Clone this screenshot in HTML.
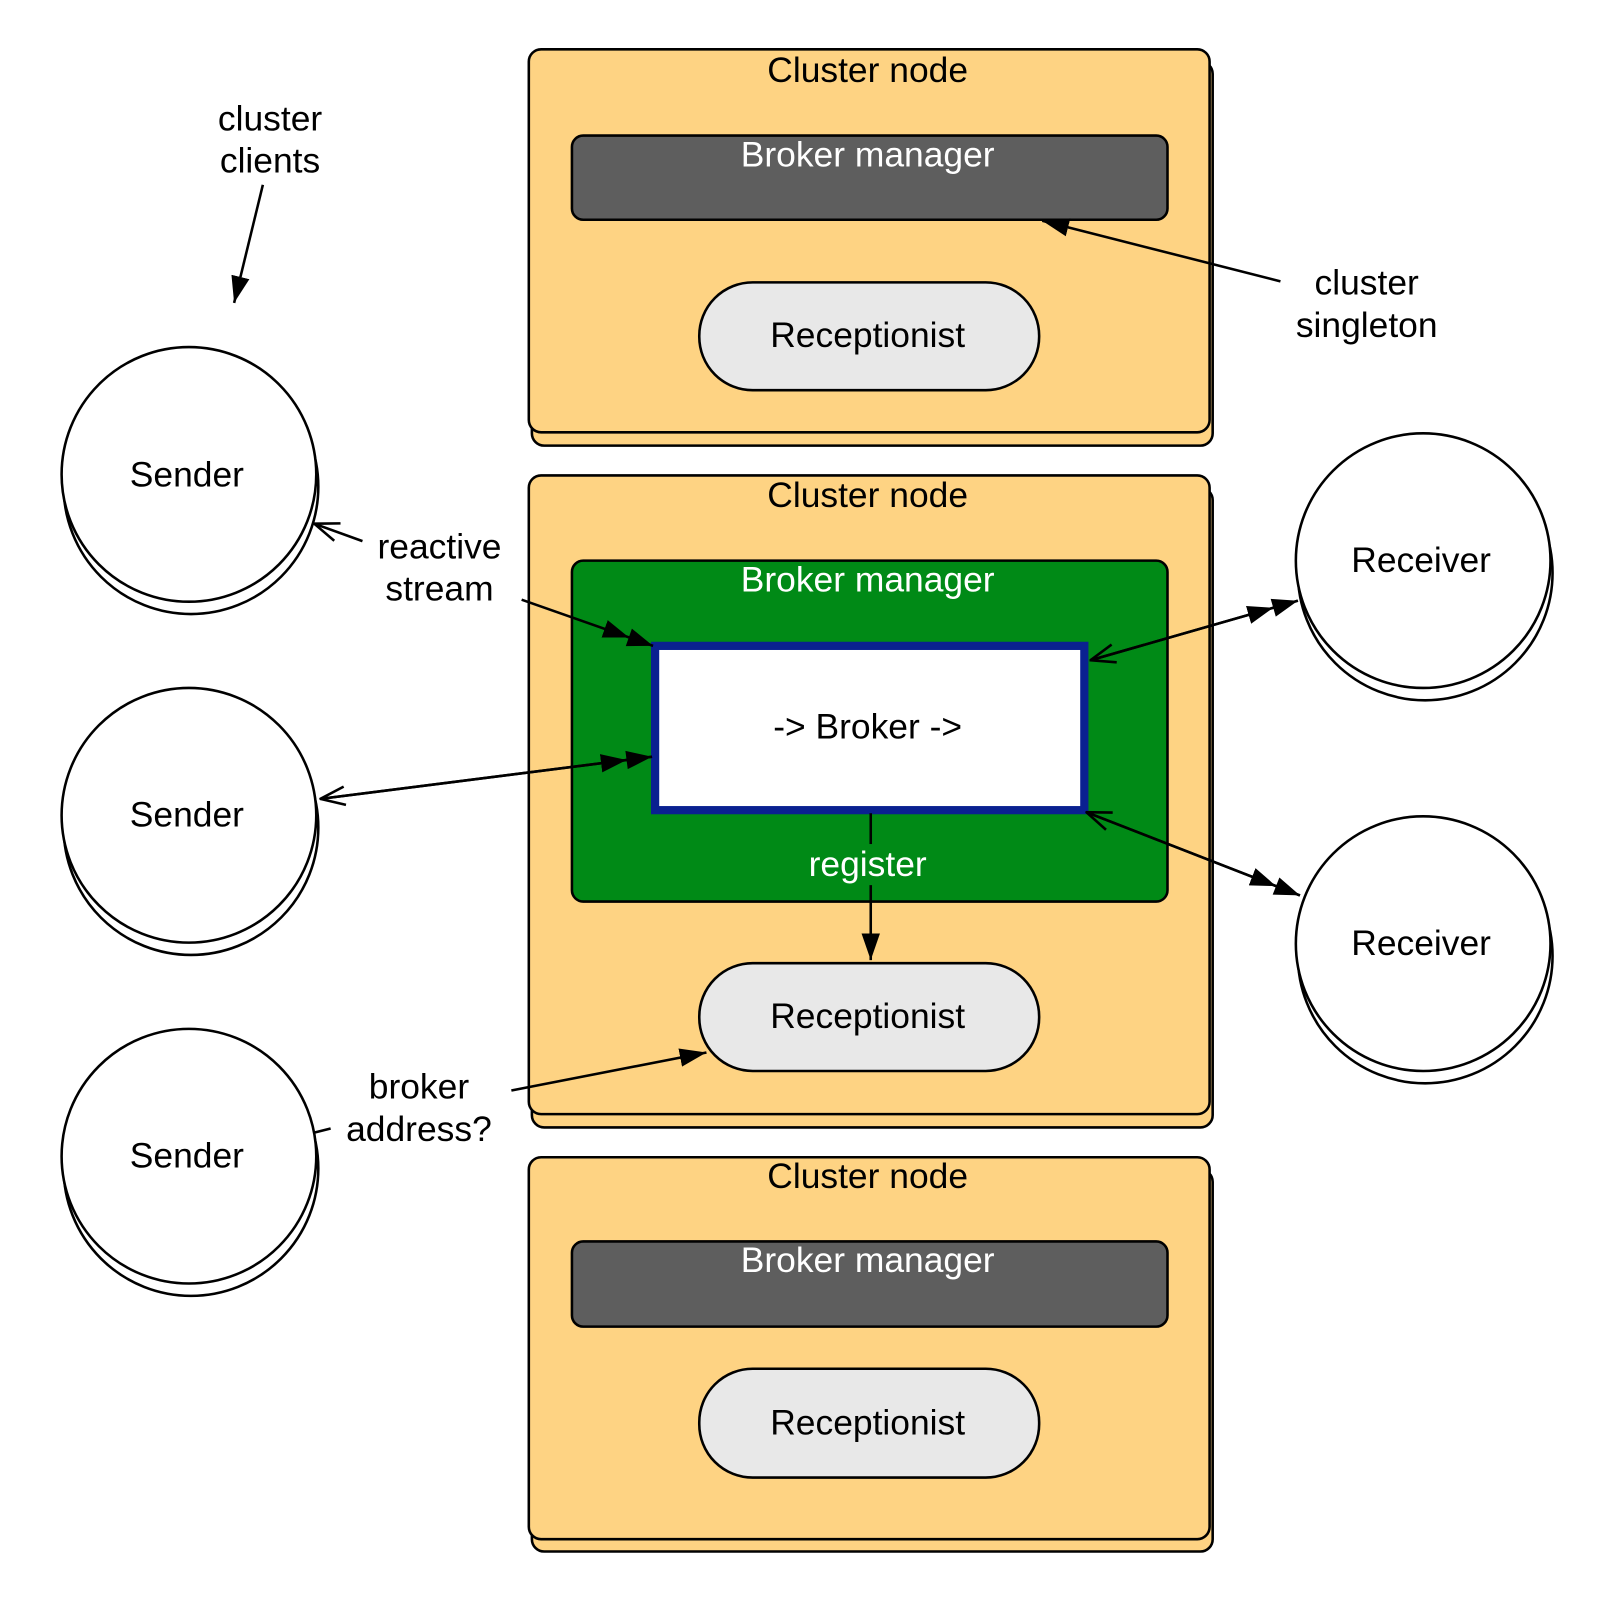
<!DOCTYPE html>
<html><head><meta charset="utf-8"><style>html,body{margin:0;padding:0;background:#fff}svg{display:block}</style></head><body>
<svg width="1608" height="1608" viewBox="0 0 1566 1566" xmlns="http://www.w3.org/2000/svg" font-family="Liberation Sans, Arial, sans-serif" font-size="34.5">
<defs>
<marker id="f2" viewBox="0 0 50 24" refX="50" refY="12" markerWidth="50" markerHeight="24" markerUnits="userSpaceOnUse" orient="auto"><path d="M0,3 L25,12 L0,21Z M25,3 L50,12 L25,21Z" fill="#000"/></marker>
<marker id="f1" viewBox="0 0 26 22" refX="26" refY="11" markerWidth="26" markerHeight="22" markerUnits="userSpaceOnUse" orient="auto"><path d="M0,2 L26,11 L0,20Z" fill="#000"/></marker>
<marker id="o" viewBox="0 0 26 22" refX="25" refY="11" markerWidth="26" markerHeight="22" markerUnits="userSpaceOnUse" orient="auto"><path d="M1,2 L25,11 L1,20" fill="none" stroke="#000" stroke-width="2.5"/></marker>
</defs>
<g stroke="#000" stroke-width="2.5">
<rect x="518" y="60" width="663" height="374" rx="12" fill="#fed383"/>
<rect x="515" y="48" width="663" height="373" rx="12" fill="#fed383"/>
<rect x="557" y="132" width="580" height="82" rx="11" fill="#5e5e5e"/>
<rect x="681" y="275" width="331" height="105" rx="52" fill="#e8e8e8"/>
<rect x="518" y="475" width="663" height="623" rx="12" fill="#fed383"/>
<rect x="515" y="463" width="663" height="622" rx="12" fill="#fed383"/>
<rect x="557" y="546" width="580" height="332" rx="11" fill="#008a16"/>
<rect x="638" y="629" width="418" height="160" fill="#fff" stroke="#0a2190" stroke-width="8"/>
<rect x="681" y="938" width="331" height="105" rx="52" fill="#e8e8e8"/>
<rect x="518" y="1139" width="663" height="372" rx="12" fill="#fed383"/>
<rect x="515" y="1127" width="663" height="372" rx="12" fill="#fed383"/>
<rect x="557" y="1209" width="580" height="83" rx="11" fill="#5e5e5e"/>
<rect x="681" y="1333" width="331" height="106" rx="52" fill="#e8e8e8"/>
<circle cx="186" cy="474" r="124" fill="#fff"/><circle cx="184" cy="462" r="124" fill="#fff"/>
<circle cx="186" cy="806" r="124" fill="#fff"/><circle cx="184" cy="794" r="124" fill="#fff"/>
<circle cx="186" cy="1138" r="124" fill="#fff"/><circle cx="184" cy="1126" r="124" fill="#fff"/>
<circle cx="1388" cy="558" r="124" fill="#fff"/><circle cx="1386" cy="546" r="124" fill="#fff"/>
<circle cx="1388" cy="931" r="124" fill="#fff"/><circle cx="1386" cy="919" r="124" fill="#fff"/>
<g fill="none">
<line x1="256" y1="180" x2="228" y2="295" marker-end="url(#f1)"/>
<line x1="1247" y1="274" x2="1015" y2="215" marker-end="url(#f1)"/>
<line x1="353" y1="527" x2="306" y2="510" marker-end="url(#o)"/>
<line x1="508" y1="584" x2="636" y2="629" marker-end="url(#f2)"/>
<line x1="635" y1="737" x2="312" y2="778" marker-end="url(#o)"/>
<line x1="312" y1="778" x2="635" y2="737" marker-end="url(#f2)"/>
<line x1="1264" y1="585" x2="1062" y2="643" marker-end="url(#o)"/>
<line x1="1062" y1="643" x2="1264" y2="585" marker-end="url(#f2)"/>
<line x1="1266" y1="872" x2="1058" y2="791" marker-end="url(#o)"/>
<line x1="1058" y1="791" x2="1266" y2="872" marker-end="url(#f2)"/>
<line x1="848" y1="792" x2="848" y2="822"/>
<line x1="848" y1="862" x2="848" y2="935" marker-end="url(#f1)"/>
<line x1="306" y1="1103" x2="322" y2="1099"/>
<line x1="498" y1="1062" x2="688" y2="1025" marker-end="url(#f1)"/>
</g>
</g>
<g text-anchor="middle" fill="#000">
<text x="845" y="80">Cluster node</text>
<text x="845" y="494">Cluster node</text>
<text x="845" y="1157">Cluster node</text>
<text x="845" y="162" fill="#fff">Broker manager</text>
<text x="845" y="576" fill="#fff">Broker manager</text>
<text x="845" y="1239" fill="#fff">Broker manager</text>
<text x="845" y="338">Receptionist</text>
<text x="845" y="1001">Receptionist</text>
<text x="845" y="1397">Receptionist</text>
<text x="845" y="719">-&gt; Broker -&gt;</text>
<text x="845" y="853" fill="#fff">register</text>
<text x="182" y="474">Sender</text>
<text x="182" y="805">Sender</text>
<text x="182" y="1137">Sender</text>
<text x="1384" y="557">Receiver</text>
<text x="1384" y="930">Receiver</text>
<text x="263" y="127">cluster</text>
<text x="263" y="168">clients</text>
<text x="1331" y="287">cluster</text>
<text x="1331" y="328">singleton</text>
<text x="428" y="544">reactive</text>
<text x="428" y="585">stream</text>
<text x="408" y="1070">broker</text>
<text x="408" y="1111">address?</text>
</g>
</svg>
</body></html>
